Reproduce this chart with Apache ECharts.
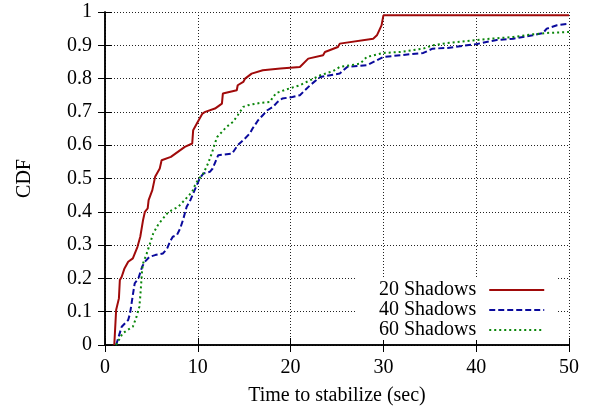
<!DOCTYPE html>
<html>
<head>
<meta charset="utf-8">
<title>CDF of time to stabilize</title>
<script src="https://cdn.jsdelivr.net/npm/echarts@6/dist/echarts.min.js"></script>
<style>
  html, body { margin: 0; padding: 0; background: #fff; }
  #chart { width: 592px; height: 406px; }
</style>
</head>
<body>
<div id="chart"></div>
<script>
// CDF 数据：[时间(秒), 累计比例]
const shadows20 = [
  [1.0, 0], [1.2, 0.105], [1.5, 0.14], [1.6, 0.195], [1.8, 0.205], [2.1, 0.23],
  [2.5, 0.25], [3.0, 0.26], [3.5, 0.295], [3.8, 0.325], [4.1, 0.375], [4.3, 0.40],
  [4.6, 0.41], [4.7, 0.435], [5.1, 0.465], [5.4, 0.505], [5.9, 0.53], [6.1, 0.555],
  [7.1, 0.565], [8.6, 0.595], [9.4, 0.605], [9.5, 0.645], [9.9, 0.665], [10.5, 0.695],
  [10.8, 0.70], [11.85, 0.71], [12.6, 0.725], [12.7, 0.755], [14.2, 0.765], [14.3, 0.78],
  [14.9, 0.79], [15.1, 0.80], [15.8, 0.815], [17.0, 0.825], [18.9, 0.83], [21.0, 0.835],
  [21.9, 0.86], [23.5, 0.87], [23.7, 0.88], [25.1, 0.895], [25.3, 0.905], [28.9, 0.92],
  [29.3, 0.93], [29.8, 0.96], [30.0, 0.99], [50, 0.99]
]
const shadows40 = [
  [1.2, 0], [1.8, 0.055], [2.5, 0.075], [2.7, 0.095], [3.0, 0.15], [3.2, 0.185],
  [3.6, 0.20], [4.0, 0.235], [4.3, 0.25], [4.8, 0.265], [5.4, 0.27], [6.25, 0.275],
  [6.7, 0.29], [7.0, 0.31], [7.3, 0.325], [7.75, 0.33], [8.1, 0.35], [8.4, 0.375],
  [8.6, 0.395], [8.8, 0.415], [9.2, 0.435], [10.2, 0.50], [10.6, 0.515], [11.3, 0.52],
  [11.6, 0.53], [12.2, 0.57], [12.4, 0.575], [13.7, 0.575], [14.3, 0.60], [14.9, 0.615],
  [15.6, 0.635], [15.9, 0.65], [16.5, 0.675], [17.0, 0.69], [17.5, 0.705], [18.1, 0.715],
  [18.6, 0.73], [19.1, 0.74], [20.2, 0.745], [21.0, 0.75], [22.1, 0.78], [23.2, 0.805],
  [25.3, 0.815], [26.1, 0.835], [28.2, 0.84], [29.3, 0.855], [30.0, 0.865], [34.3, 0.877],
  [35.3, 0.89], [36.9, 0.892], [39.0, 0.90], [40.1, 0.904], [42.2, 0.916], [44.0, 0.92],
  [46.1, 0.93], [47.2, 0.937], [47.6, 0.95], [48.7, 0.96], [50, 0.965]
]
const shadows60 = [
  [1.2, 0], [1.9, 0.035], [2.7, 0.05], [3.0, 0.055], [3.4, 0.085], [3.7, 0.115],
  [3.8, 0.145], [3.9, 0.185], [4.0, 0.225], [4.1, 0.245], [4.5, 0.275], [4.85, 0.305],
  [5.2, 0.335], [5.7, 0.36], [6.1, 0.375], [6.7, 0.395], [7.2, 0.405], [7.9, 0.415],
  [8.4, 0.43], [8.9, 0.445], [9.4, 0.46], [9.7, 0.48], [10.0, 0.495], [10.6, 0.515],
  [11.1, 0.545], [11.5, 0.575], [11.9, 0.61], [12.1, 0.625], [12.6, 0.64], [13.1, 0.655],
  [13.8, 0.67], [14.3, 0.69], [14.9, 0.715], [15.4, 0.72], [16.7, 0.727], [17.8, 0.73],
  [18.1, 0.745], [18.5, 0.757], [19.6, 0.768], [21.0, 0.78], [22.1, 0.795], [23.2, 0.81],
  [24.6, 0.823], [25.3, 0.835], [27.5, 0.845], [28.2, 0.865], [30.0, 0.877], [31.8, 0.88],
  [34.3, 0.89], [35.3, 0.90], [36.9, 0.907], [39.0, 0.913], [41.2, 0.919], [44.0, 0.925],
  [46.1, 0.933], [47.6, 0.937], [50, 0.94]
]
const seriesNames = ['20 Shadows', '40 Shadows', '60 Shadows']

const font = 'Liberation Serif'
const tick = { show: true, inside: true, length: 7, lineStyle: { color: '#000', width: 1 } }
const frame = { show: true, lineStyle: { color: '#000', width: 1.5 } }
const gridLine = { show: true, lineStyle: { color: '#222', width: 1, type: [1, 2] } }
const label = { color: '#000', fontFamily: font, fontSize: 20 }

const chart = echarts.init(document.getElementById('chart'))
chart.setOption({
  animation: false,
  backgroundColor: '#fff',
  grid: { left: 105, right: 23, top: 12, bottom: 61, outerBoundsMode: 'none' },
  legend: {
    orient: 'vertical',
    align: 'right',
    left: 357,
    top: 277,
    padding: [3, 12, 0, 22],
    backgroundColor: '#fff',
    itemWidth: 55,
    itemHeight: 14,
    itemGap: 0,
    itemStyle: { opacity: 0 }, // 图例只画线，不画点
    textStyle: { color: '#000', fontFamily: font, fontSize: 20, lineHeight: 19.5, padding: [0, 8, 0, 0] },
    data: seriesNames
  },
  xAxis: [
    {
      type: 'value', min: 0, max: 50, interval: 10,
      name: 'Time to stabilize (sec)', nameLocation: 'middle', nameGap: 41,
      nameTextStyle: label,
      axisLine: frame, axisTick: tick, splitLine: gridLine,
      axisLabel: Object.assign({ margin: 13 }, label)
    },
    {
      type: 'value', position: 'top', min: 0, max: 50, interval: 10,
      axisLine: frame, axisTick: tick, splitLine: { show: false }, axisLabel: { show: false }
    }
  ],
  yAxis: [
    {
      type: 'value', min: 0, max: 1, interval: 0.1,
      name: 'CDF', nameLocation: 'middle', nameGap: 70,
      nameTextStyle: label,
      axisLine: frame, axisTick: tick, splitLine: gridLine,
      axisLabel: Object.assign({ margin: 13 }, label)
    },
    {
      type: 'value', position: 'right', min: 0, max: 1, interval: 0.1,
      axisLine: frame, axisTick: tick, splitLine: { show: false }, axisLabel: { show: false }
    }
  ],
  series: [
    {
      name: seriesNames[0], type: 'line', data: shadows20, symbol: 'none',
      lineStyle: { color: '#a00a0a', width: 2 }, itemStyle: { color: '#a00a0a' }
    },
    {
      name: seriesNames[1], type: 'line', data: shadows40, symbol: 'none',
      lineStyle: { color: '#0a0a9c', width: 2, type: [6, 3] }, itemStyle: { color: '#0a0a9c' }
    },
    {
      name: seriesNames[2], type: 'line', data: shadows60, symbol: 'none',
      lineStyle: { color: '#0a860a', width: 2, type: [2, 3] }, itemStyle: { color: '#0a860a' }
    }
  ]
})
</script>
</body>
</html>
